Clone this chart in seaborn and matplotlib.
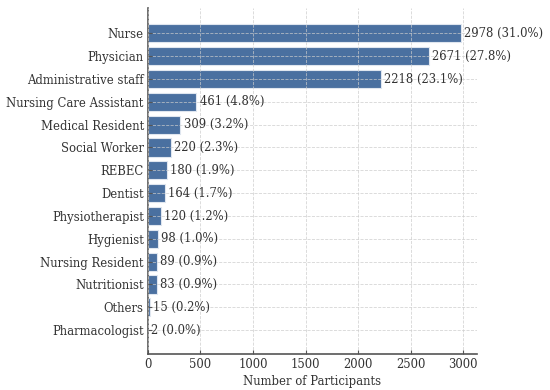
import matplotlib
matplotlib.use("Agg")
import matplotlib.pyplot as plt
import seaborn as sns
import pandas as pd

categories = ["Nurse", "Physician", "Administrative staff", "Nursing Care Assistant",
              "Medical Resident", "Social Worker", "REBEC", "Dentist", "Physiotherapist",
              "Hygienist", "Nursing Resident", "Nutritionist", "Others", "Pharmacologist"]
counts = [2978, 2671, 2218, 461, 309, 220, 180, 164, 120, 98, 89, 83, 15, 2]

sns.set_theme(style="whitegrid")
plt.rcParams['font.family'] = ['DejaVu Serif']

df = pd.DataFrame({"Role": categories, "Count": counts})
total = sum(counts)

fig = plt.figure(figsize=(5.5, 3.9), dpi=100)
ax = fig.add_axes([0.269, 0.092, 0.598, 0.887])
sns.barplot(data=df, y="Role", x="Count", orient="h", color="#4a70a0",
            saturation=1, width=0.8, edgecolor="#dfe6ef", linewidth=0.8, ax=ax)
ax.set_axisbelow(False)
ax.grid(True, axis="both", linestyle="--", color="#cccccc", linewidth=0.6, alpha=0.8)
for i, c in enumerate(counts):
    ax.text(c + 30, i, f"{c} ({c / total * 100:.1f}%)", va="center", ha="left",
            fontsize=8.4, color="#333333")
ax.set_xlim(0, 3130)
ax.set_ylim(len(categories) - 1 + 1.05, -1.1)
ax.set_xticks([0, 500, 1000, 1500, 2000, 2500, 3000])
ax.set_xlabel("Number of Participants", fontsize=8.4, color="#333333", labelpad=3)
ax.set_ylabel("")
for s in ["top", "right"]:
    ax.spines[s].set_visible(False)
for s in ["left", "bottom"]:
    ax.spines[s].set_color("#555555")
    ax.spines[s].set_linewidth(1.2)
ax.tick_params(axis="both", direction="in", length=3, width=0.8, color="#555555",
               labelsize=8.4, labelcolor="#333333", pad=3, left=True, bottom=True)
fig.savefig("out.png", dpi=100)
